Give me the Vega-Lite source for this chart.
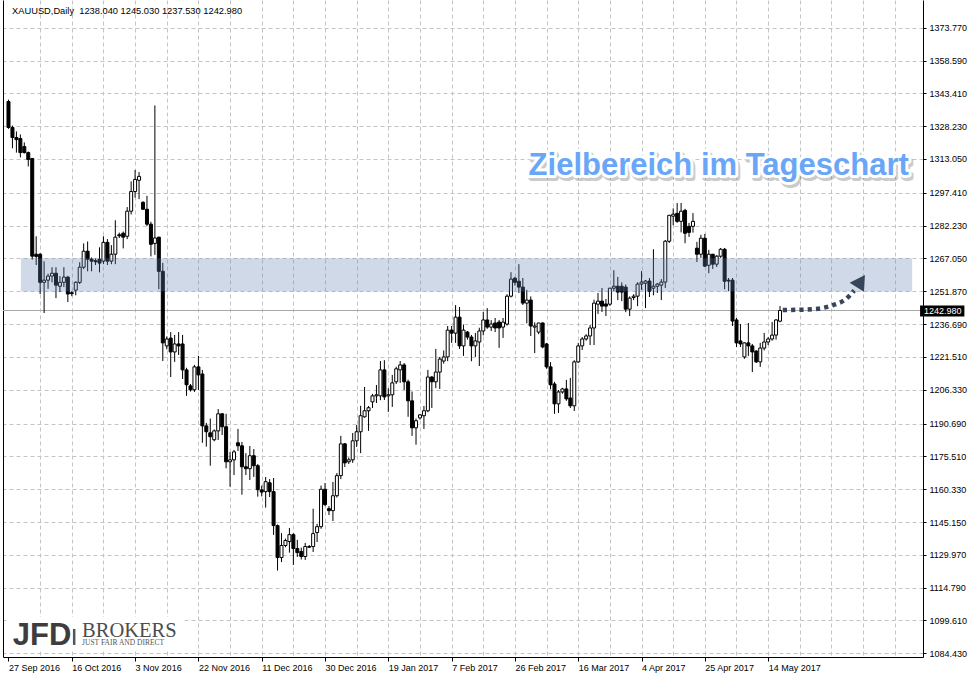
{
"$schema":"https://vega.github.io/schema/vega-lite/v6.json",
"width":920,"height":657,"autosize":"none",
"padding":{"left":3,"top":0,"right":48,"bottom":21},
"background":"white",
"config":{"view":{"stroke":null},"axis":{"labelFont":"Liberation Sans","labelFontSize":9,"labelColor":"black","title":null}},
"data":{"values":[{}]},
"datasets":{
"candles":[
{"i":0,"o":1339.6,"h":1340.5,"l":1327,"c":1327.6},
{"i":1,"o":1327.6,"h":1328.5,"l":1318,"c":1323},
{"i":2,"o":1323,"h":1325.8,"l":1316,"c":1322},
{"i":3,"o":1322.5,"h":1324.4,"l":1313.8,"c":1316},
{"i":4,"o":1318.8,"h":1320.7,"l":1315.6,"c":1316},
{"i":5,"o":1316,"h":1316.5,"l":1309.6,"c":1312.8},
{"i":6,"o":1313.3,"h":1313.5,"l":1266.5,"c":1268.1},
{"i":7,"o":1269,"h":1277.3,"l":1264,"c":1268},
{"i":8,"o":1269,"h":1269.5,"l":1250.6,"c":1256},
{"i":9,"o":1256,"h":1265.7,"l":1241.8,"c":1257},
{"i":10,"o":1257,"h":1260,"l":1253,"c":1258.9},
{"i":11,"o":1258.9,"h":1263,"l":1256,"c":1260.2},
{"i":12,"o":1260.2,"h":1263,"l":1248.7,"c":1254.7},
{"i":13,"o":1254.2,"h":1258.9,"l":1251.5,"c":1256},
{"i":14,"o":1256,"h":1263,"l":1253.8,"c":1258.4},
{"i":15,"o":1258.4,"h":1259,"l":1246.9,"c":1250.6},
{"i":16,"o":1251.2,"h":1252,"l":1249.6,"c":1250.8},
{"i":17,"o":1252.4,"h":1256.5,"l":1250,"c":1256},
{"i":18,"o":1256,"h":1265.3,"l":1255.2,"c":1263},
{"i":19,"o":1263,"h":1274,"l":1262.1,"c":1270.4},
{"i":20,"o":1270.4,"h":1274.9,"l":1261.1,"c":1266.7},
{"i":21,"o":1266.7,"h":1267.5,"l":1261.1,"c":1265.8},
{"i":22,"o":1266,"h":1267,"l":1264,"c":1265.5},
{"i":23,"o":1266.7,"h":1272.2,"l":1260.6,"c":1264.9},
{"i":24,"o":1265.8,"h":1277.3,"l":1264.4,"c":1274.5},
{"i":25,"o":1274.5,"h":1276,"l":1264,"c":1265.8},
{"i":26,"o":1265.8,"h":1273.2,"l":1264.4,"c":1269},
{"i":27,"o":1269,"h":1284.7,"l":1264.4,"c":1276.9},
{"i":28,"o":1278,"h":1279,"l":1276.5,"c":1277.5},
{"i":29,"o":1278.7,"h":1279.5,"l":1271.7,"c":1276.9},
{"i":30,"o":1277.3,"h":1290.8,"l":1276,"c":1288.9},
{"i":31,"o":1288.9,"h":1302.7,"l":1287.4,"c":1298},
{"i":32,"o":1298,"h":1308,"l":1295.2,"c":1303.6},
{"i":33,"o":1303.2,"h":1307,"l":1294.5,"c":1305},
{"i":34,"o":1293,"h":1293.5,"l":1289.6,"c":1289.8},
{"i":35,"o":1289.8,"h":1296,"l":1282,"c":1282.9},
{"i":36,"o":1282.9,"h":1284,"l":1268,"c":1273.6},
{"i":37,"o":1274,"h":1337.8,"l":1268.7,"c":1276.5},
{"i":38,"o":1276.9,"h":1277,"l":1252.8,"c":1261.1},
{"i":39,"o":1261.1,"h":1265,"l":1219.6,"c":1228},
{"i":40,"o":1226.6,"h":1231,"l":1225,"c":1229.8},
{"i":41,"o":1230.2,"h":1233,"l":1212.2,"c":1223.8},
{"i":42,"o":1223.8,"h":1231.7,"l":1219.2,"c":1227.5},
{"i":43,"o":1227.5,"h":1233,"l":1222.4,"c":1226.6},
{"i":44,"o":1227.5,"h":1231.7,"l":1211.3,"c":1215.5},
{"i":45,"o":1215.5,"h":1216.5,"l":1203.5,"c":1208.6},
{"i":46,"o":1208.1,"h":1209,"l":1205.5,"c":1206.3},
{"i":47,"o":1206.3,"h":1217.8,"l":1205.3,"c":1216.9},
{"i":48,"o":1216.9,"h":1222,"l":1206.2,"c":1213.2},
{"i":49,"o":1213.6,"h":1215.5,"l":1181.8,"c":1189.6},
{"i":50,"o":1189.6,"h":1191,"l":1180,"c":1186.9},
{"i":51,"o":1186.4,"h":1193,"l":1171.2,"c":1184.6},
{"i":52,"o":1183.2,"h":1188,"l":1182.5,"c":1187.3},
{"i":53,"o":1187.3,"h":1197.4,"l":1183.1,"c":1195.2},
{"i":54,"o":1195.2,"h":1195.5,"l":1185.4,"c":1189.2},
{"i":55,"o":1189.2,"h":1195.2,"l":1170,"c":1173},
{"i":56,"o":1173,"h":1177.5,"l":1161.5,"c":1173.9},
{"i":57,"o":1173.9,"h":1178.5,"l":1166.9,"c":1177.6},
{"i":58,"o":1181.8,"h":1188.2,"l":1178,"c":1180.4},
{"i":59,"o":1180.4,"h":1182.2,"l":1157.8,"c":1170.7},
{"i":60,"o":1170.7,"h":1177,"l":1166.9,"c":1169.8},
{"i":61,"o":1169.8,"h":1180.3,"l":1164.6,"c":1175.8},
{"i":62,"o":1175.8,"h":1178.9,"l":1166,"c":1171.2},
{"i":63,"o":1171.2,"h":1172,"l":1156.9,"c":1160.1},
{"i":64,"o":1160,"h":1162,"l":1157,"c":1159},
{"i":65,"o":1159.2,"h":1166,"l":1151.8,"c":1163.8},
{"i":66,"o":1163.3,"h":1165,"l":1156.7,"c":1159.2},
{"i":67,"o":1159.2,"h":1165.5,"l":1139.2,"c":1143.5},
{"i":68,"o":1143.5,"h":1144,"l":1122.7,"c":1128.7},
{"i":69,"o":1128.7,"h":1140,"l":1126.6,"c":1134.3},
{"i":70,"o":1134.3,"h":1137.5,"l":1133.5,"c":1136.6},
{"i":71,"o":1136.1,"h":1142.4,"l":1131,"c":1139.3},
{"i":72,"o":1139.3,"h":1140,"l":1125.3,"c":1132.9},
{"i":73,"o":1132.9,"h":1136.9,"l":1129,"c":1131},
{"i":74,"o":1131.5,"h":1133.3,"l":1127.8,"c":1129.2},
{"i":75,"o":1129.2,"h":1135.5,"l":1127.6,"c":1133.8},
{"i":76,"o":1133.8,"h":1134.5,"l":1133.2,"c":1133.5},
{"i":77,"o":1133.8,"h":1151.3,"l":1131.3,"c":1139.8},
{"i":78,"o":1140.3,"h":1144.3,"l":1135.9,"c":1143},
{"i":79,"o":1143,"h":1162,"l":1142,"c":1160.3},
{"i":80,"o":1160.3,"h":1163.2,"l":1152.5,"c":1153.2},
{"i":81,"o":1151.3,"h":1152.5,"l":1148.4,"c":1150.4},
{"i":82,"o":1150.4,"h":1163.7,"l":1145.6,"c":1157.3},
{"i":83,"o":1157.3,"h":1167.8,"l":1156.5,"c":1166.6},
{"i":84,"o":1166.6,"h":1185,"l":1165,"c":1181.3},
{"i":85,"o":1181.3,"h":1181.7,"l":1170.6,"c":1172.5},
{"i":86,"o":1173,"h":1175,"l":1172,"c":1173.9},
{"i":87,"o":1173.9,"h":1186.3,"l":1172.5,"c":1182.7},
{"i":88,"o":1182.7,"h":1190,"l":1179.9,"c":1186.9},
{"i":89,"o":1186.9,"h":1198.9,"l":1177,"c":1194.3},
{"i":90,"o":1193.8,"h":1207.6,"l":1193.4,"c":1196.6},
{"i":91,"o":1196.6,"h":1198.8,"l":1187.3,"c":1198},
{"i":92,"o":1200.7,"h":1204.4,"l":1197.9,"c":1203.5},
{"i":93,"o":1203.5,"h":1208.5,"l":1200.2,"c":1204},
{"i":94,"o":1203.5,"h":1219.6,"l":1201.5,"c":1215.5},
{"i":95,"o":1215.5,"h":1220,"l":1201.6,"c":1203},
{"i":96,"o":1203.5,"h":1207,"l":1196.1,"c":1204},
{"i":97,"o":1204,"h":1213.2,"l":1198.4,"c":1209.5},
{"i":98,"o":1210,"h":1217,"l":1209,"c":1216},
{"i":99,"o":1215.5,"h":1219.6,"l":1209.5,"c":1217.8},
{"i":100,"o":1217.8,"h":1218.7,"l":1206.2,"c":1210},
{"i":101,"o":1210,"h":1211,"l":1193.8,"c":1201.2},
{"i":102,"o":1201.2,"h":1205.5,"l":1185,"c":1188.7},
{"i":103,"o":1188.7,"h":1193,"l":1180.9,"c":1192},
{"i":104,"o":1193.3,"h":1195,"l":1192.5,"c":1194.7},
{"i":105,"o":1194.3,"h":1198.8,"l":1188.2,"c":1196.6},
{"i":106,"o":1196.6,"h":1215.5,"l":1195.9,"c":1212.2},
{"i":107,"o":1212.2,"h":1212.7,"l":1197.9,"c":1210},
{"i":108,"o":1210,"h":1225.2,"l":1207.1,"c":1214.5},
{"i":109,"o":1214.5,"h":1221.5,"l":1206.7,"c":1220.5},
{"i":110,"o":1219.6,"h":1224.5,"l":1218.4,"c":1221.5},
{"i":111,"o":1221.5,"h":1235.8,"l":1219.5,"c":1233.9},
{"i":112,"o":1233.9,"h":1235.8,"l":1228,"c":1232.5},
{"i":113,"o":1232.5,"h":1245.5,"l":1228,"c":1239.9},
{"i":114,"o":1239.9,"h":1244.6,"l":1225.2,"c":1226.6},
{"i":115,"o":1226.6,"h":1236.5,"l":1222,"c":1233.9},
{"i":116,"o":1233,"h":1233.5,"l":1229.5,"c":1230.7},
{"i":117,"o":1230.7,"h":1231.7,"l":1219.5,"c":1226.6},
{"i":118,"o":1226.6,"h":1232.6,"l":1221.5,"c":1228.9},
{"i":119,"o":1228.4,"h":1235,"l":1217.3,"c":1233.5},
{"i":120,"o":1233.5,"h":1242.3,"l":1231.5,"c":1238.6},
{"i":121,"o":1238.6,"h":1244.1,"l":1234.5,"c":1235.3},
{"i":122,"o":1235.3,"h":1238.5,"l":1233.5,"c":1236.7},
{"i":123,"o":1237.2,"h":1239.5,"l":1233,"c":1234.9},
{"i":124,"o":1237.6,"h":1238.6,"l":1225.7,"c":1234.9},
{"i":125,"o":1235.3,"h":1239.5,"l":1230.3,"c":1237.6},
{"i":126,"o":1236.7,"h":1250.5,"l":1236,"c":1249.6},
{"i":127,"o":1249.6,"h":1260.7,"l":1249,"c":1257.5},
{"i":128,"o":1257.9,"h":1258.5,"l":1254.5,"c":1256},
{"i":129,"o":1256.5,"h":1264.4,"l":1251.1,"c":1253.8},
{"i":130,"o":1253.8,"h":1258,"l":1245.5,"c":1246.4},
{"i":131,"o":1246.4,"h":1252.5,"l":1237,"c":1247.8},
{"i":132,"o":1247.8,"h":1249.5,"l":1231.2,"c":1235.8},
{"i":133,"o":1235.3,"h":1237.5,"l":1223.3,"c":1235.8},
{"i":134,"o":1233,"h":1237.2,"l":1232,"c":1237.2},
{"i":135,"o":1237.2,"h":1237.5,"l":1225.5,"c":1226.1},
{"i":136,"o":1227.5,"h":1228,"l":1216,"c":1216.9},
{"i":137,"o":1216.9,"h":1219.1,"l":1206.5,"c":1208.6},
{"i":138,"o":1209,"h":1210,"l":1195.2,"c":1199.8},
{"i":139,"o":1199.8,"h":1206.2,"l":1195.6,"c":1205.3},
{"i":140,"o":1205.3,"h":1207.2,"l":1204.5,"c":1206.7},
{"i":141,"o":1206.7,"h":1210.9,"l":1201.2,"c":1202.1},
{"i":142,"o":1202.5,"h":1211.8,"l":1197.9,"c":1198.9},
{"i":143,"o":1198.9,"h":1220,"l":1196.5,"c":1219.2},
{"i":144,"o":1219.2,"h":1228,"l":1218.7,"c":1226.6},
{"i":145,"o":1226.6,"h":1230.7,"l":1224.7,"c":1229.8},
{"i":146,"o":1229.8,"h":1232,"l":1229,"c":1231.2},
{"i":147,"o":1231.2,"h":1236.3,"l":1227,"c":1234.9},
{"i":148,"o":1234.9,"h":1248,"l":1227,"c":1246.4},
{"i":149,"o":1245.9,"h":1251.1,"l":1241.4,"c":1247.3},
{"i":150,"o":1247.3,"h":1253.4,"l":1242.3,"c":1245},
{"i":151,"o":1246,"h":1248.3,"l":1240.4,"c":1245},
{"i":152,"o":1245.9,"h":1253.4,"l":1245.1,"c":1253.3},
{"i":153,"o":1253.3,"h":1261.6,"l":1252,"c":1254.2},
{"i":154,"o":1254.2,"h":1258.5,"l":1247.8,"c":1251.5},
{"i":155,"o":1254.2,"h":1256,"l":1247.3,"c":1251.5},
{"i":156,"o":1253.8,"h":1255,"l":1242.2,"c":1243.6},
{"i":157,"o":1243.6,"h":1249.5,"l":1240.4,"c":1248.7},
{"i":158,"o":1249,"h":1250.5,"l":1247.8,"c":1249.6},
{"i":159,"o":1249.6,"h":1256,"l":1245,"c":1255.2},
{"i":160,"o":1255.2,"h":1261.2,"l":1252.5,"c":1256.1},
{"i":161,"o":1255.6,"h":1257.1,"l":1244.1,"c":1256.6},
{"i":162,"o":1256.6,"h":1258,"l":1249.2,"c":1251.9},
{"i":163,"o":1253.3,"h":1271.3,"l":1250,"c":1254.2},
{"i":164,"o":1254.2,"h":1255.7,"l":1251.1,"c":1255.2},
{"i":165,"o":1254.7,"h":1257.5,"l":1247.8,"c":1256.1},
{"i":166,"o":1256.1,"h":1275.6,"l":1253.4,"c":1275},
{"i":167,"o":1275,"h":1287.2,"l":1274.2,"c":1287},
{"i":168,"o":1286.6,"h":1290.2,"l":1282.4,"c":1287.5},
{"i":169,"o":1287.9,"h":1292.7,"l":1283.5,"c":1284.2},
{"i":170,"o":1284.2,"h":1292.7,"l":1279.1,"c":1288.9},
{"i":171,"o":1289.3,"h":1290,"l":1274.1,"c":1278.7},
{"i":172,"o":1281.9,"h":1283.5,"l":1277,"c":1279.1},
{"i":173,"o":1281.9,"h":1288,"l":1279,"c":1284.2},
{"i":174,"o":1271.8,"h":1274.7,"l":1265.4,"c":1269},
{"i":175,"o":1269,"h":1278,"l":1267.3,"c":1276.4},
{"i":176,"o":1276.4,"h":1278.4,"l":1263.1,"c":1263.5},
{"i":177,"o":1263.9,"h":1271,"l":1260.2,"c":1269},
{"i":178,"o":1269,"h":1269.1,"l":1262.2,"c":1264.4},
{"i":179,"o":1264.4,"h":1268.6,"l":1263.1,"c":1268.1},
{"i":180,"o":1268.1,"h":1271.9,"l":1267.3,"c":1271.3},
{"i":181,"o":1271.3,"h":1271.9,"l":1252.8,"c":1256.5},
{"i":182,"o":1257,"h":1258,"l":1251.9,"c":1256.6},
{"i":183,"o":1257,"h":1258,"l":1235.8,"c":1238.1},
{"i":184,"o":1238.6,"h":1239.5,"l":1226.1,"c":1228},
{"i":185,"o":1228.9,"h":1236.7,"l":1226.1,"c":1227.5},
{"i":186,"o":1221.5,"h":1228.2,"l":1220.6,"c":1228},
{"i":187,"o":1228,"h":1237.2,"l":1222,"c":1226.6},
{"i":188,"o":1226.6,"h":1227.5,"l":1214.5,"c":1223.8},
{"i":189,"o":1224.2,"h":1224.7,"l":1218.7,"c":1219.2},
{"i":190,"o":1219.2,"h":1228,"l":1216.9,"c":1225.6},
{"i":191,"o":1225.6,"h":1232.6,"l":1224.5,"c":1228.4},
{"i":192,"o":1228.4,"h":1230.7,"l":1227,"c":1229.8},
{"i":193,"o":1229.8,"h":1237.7,"l":1229,"c":1231.6},
{"i":194,"o":1231.6,"h":1239,"l":1229.5,"c":1238.6},
{"i":195,"o":1238.04,"h":1245.03,"l":1237.53,"c":1242.98}
],
"arrow":[
{"ax":195.7,"ay":1243.2},
{"ax":200.4,"ay":1243.35},
{"ax":204.55,"ay":1243.8},
{"ax":208.3,"ay":1245.4},
{"ax":211.8,"ay":1248.5},
{"ax":213.75,"ay":1252.2}
]
},
"resolve":{"axis":{"x":"independent","y":"independent"}},
"layer":[
{"mark":{"type":"rect","fill":"white"},
 "encoding":{"x":{"datum":-0.125,"type":"quantitative","scale":{"domain":[-0.125,229.875]},"axis":null},"x2":{"datum":44.4},
 "y":{"datum":1086,"type":"quantitative","scale":{"domain":[1082.72,1386.58]},"axis":null},"y2":{"datum":1101.2}}},
{"mark":{"type":"rule","color":"#a8a8a8","strokeWidth":1},
 "encoding":{"y":{"datum":1242.98,"type":"quantitative","scale":{"domain":[1082.72,1386.58]},"axis":null}}},
{"data":{"name":"candles"},
 "mark":{"type":"rule","color":"black","strokeWidth":1,"clip":true},
 "encoding":{
  "x":{"field":"i","type":"quantitative","scale":{"domain":[-0.125,229.875]},
   "axis":{"orient":"bottom","values":[8,16,24,32,40,48,56,64,72,80,88,96,104,112,120,128,136,144,152,160,168,176,184,192,200,208,216,224],"grid":true,"gridColor":"#c4c4c4","gridDash":[4,3],"labels":false,"ticks":false,"domain":false}},
  "y":{"field":"l","type":"quantitative","scale":{"domain":[1082.72,1386.58]},
   "axis":{"orient":"right","values":[1084.43,1099.61,1114.79,1129.97,1145.15,1160.33,1175.51,1190.69,1206.33,1221.51,1236.69,1251.87,1267.05,1282.23,1297.41,1313.05,1328.23,1343.41,1358.59,1373.77],"format":".3f","grid":true,"gridColor":"#c4c4c4","gridDash":[4,3],"domainColor":"black","tickColor":"black","tickSize":3,"labelPadding":3}},
  "y2":{"field":"h"}}},
{"data":{"name":"candles"},
 "mark":{"type":"bar","size":3,"stroke":"black","strokeWidth":1,"clip":true},
 "encoding":{
  "x":{"field":"i","type":"quantitative","scale":{"domain":[-0.125,229.875]},
   "axis":{"orient":"bottom","values":[0,16,32,48,64,80,96,112,128,144,160,176,192],
    "labelExpr":"['27 Sep 2016','16 Oct 2016','3 Nov 2016','22 Nov 2016','11 Dec 2016','30 Dec 2016','19 Jan 2017','7 Feb 2017','26 Feb 2017','16 Mar 2017','4 Apr 2017','25 Apr 2017','14 May 2017'][round(datum.value/16)]",
    "labelAlign":"left","labelBaseline":"top","grid":false,"domainColor":"black","tickColor":"black","tickSize":4,"labelPadding":2,"labelFlush":false,"labelOverlap":false,"labelBound":false}},
  "y":{"field":"o","type":"quantitative","scale":{"domain":[1082.72,1386.58]},
   "axis":{"orient":"left","labels":false,"ticks":false,"grid":false,"domainColor":"black"}},
  "y2":{"field":"c"},
  "fill":{"condition":{"test":"datum.c >= datum.o","value":"white"},"value":"black"}}},
{"mark":{"type":"rect","fill":"#6181b1","opacity":0.3},
 "encoding":{"x":{"datum":3.125,"type":"quantitative","scale":{"domain":[-0.125,229.875]},"axis":null},"x2":{"datum":228.4},
 "y":{"datum":1251.8,"type":"quantitative","scale":{"domain":[1082.72,1386.58]},"axis":null},"y2":{"datum":1267.1}}},
{"data":{"name":"arrow"},
 "mark":{"type":"line","stroke":"#36455a","strokeWidth":4.5,"strokeDash":[4.2,4.1],"strokeCap":"butt","interpolate":"monotone","clip":false},
 "encoding":{"x":{"field":"ax","type":"quantitative","scale":{"domain":[-0.125,229.875]},"axis":null},
 "y":{"field":"ay","type":"quantitative","scale":{"domain":[1082.72,1386.58]},"axis":null}}},
{"mark":{"type":"point","shape":"M0.54,-0.81L-0.99,-0.04L0.44,0.86Z","filled":true,"size":400,"color":"#36455a","opacity":1,"clip":false},
 "encoding":{"x":{"datum":215.1,"type":"quantitative","scale":{"domain":[-0.125,229.875]},"axis":null},
 "y":{"datum":1255.65,"type":"quantitative","scale":{"domain":[1082.72,1386.58]},"axis":null}}},
{"mark":{"type":"text","text":"Zielbereich im Tageschart","font":"Liberation Sans","fontWeight":"bold","fontSize":31,"align":"center","baseline":"alphabetic","dx":2,"dy":3,"fill":"#555555","stroke":"#555555","strokeWidth":6,"strokeJoin":"round","opacity":0.3},
 "encoding":{"x":{"datum":179.5,"type":"quantitative","scale":{"domain":[-0.125,229.875]},"axis":null},
 "y":{"datum":1305.64,"type":"quantitative","scale":{"domain":[1082.72,1386.58]},"axis":null}}},
{"mark":{"type":"text","text":"Zielbereich im Tageschart","font":"Liberation Sans","fontWeight":"bold","fontSize":31,"align":"center","baseline":"alphabetic","fill":"white","stroke":"white","strokeWidth":6,"strokeJoin":"round"},
 "encoding":{"x":{"datum":179.5,"type":"quantitative","scale":{"domain":[-0.125,229.875]},"axis":null},
 "y":{"datum":1305.64,"type":"quantitative","scale":{"domain":[1082.72,1386.58]},"axis":null}}},
{"mark":{"type":"text","text":"Zielbereich im Tageschart","font":"Liberation Sans","fontWeight":"bold","fontSize":31,"align":"center","baseline":"alphabetic","fill":"#6aa6f8"},
 "encoding":{"x":{"datum":179.5,"type":"quantitative","scale":{"domain":[-0.125,229.875]},"axis":null},
 "y":{"datum":1305.64,"type":"quantitative","scale":{"domain":[1082.72,1386.58]},"axis":null}}},
{"mark":{"type":"text","text":"JFD","font":"Liberation Sans","fontWeight":"bold","fontSize":31,"align":"left","baseline":"alphabetic","fill":"#3d3d3d","letterSpacing":-1},
 "encoding":{"x":{"datum":1.1,"type":"quantitative","scale":{"domain":[-0.125,229.875]},"axis":null},
 "y":{"datum":1088.3,"type":"quantitative","scale":{"domain":[1082.72,1386.58]},"axis":null}}},
{"mark":{"type":"rule","color":"#555555","strokeWidth":2.5},
 "encoding":{"x":{"datum":16.6,"type":"quantitative","scale":{"domain":[-0.125,229.875]},"axis":null},
 "y":{"datum":1088.3,"type":"quantitative","scale":{"domain":[1082.72,1386.58]},"axis":null},"y2":{"datum":1095.7}}},
{"mark":{"type":"text","text":"BROKERS","font":"Liberation Serif","fontSize":20.5,"align":"left","baseline":"alphabetic","fill":"#4d4d4d"},
 "encoding":{"x":{"datum":18.6,"type":"quantitative","scale":{"domain":[-0.125,229.875]},"axis":null},
 "y":{"datum":1092.2,"type":"quantitative","scale":{"domain":[1082.72,1386.58]},"axis":null}}},
{"mark":{"type":"text","text":"JUST FAIR AND DIRECT","font":"Liberation Serif","fontSize":7.5,"letterSpacing":0.5,"align":"left","baseline":"alphabetic","fill":"#555555"},
 "encoding":{"x":{"datum":18.6,"type":"quantitative","scale":{"domain":[-0.125,229.875]},"axis":null},
 "y":{"datum":1088.1,"type":"quantitative","scale":{"domain":[1082.72,1386.58]},"axis":null}}},
{"mark":{"type":"text","text":"XAUUSD,Daily\u00a0 1238.040 1245.030 1237.530 1242.980","font":"Liberation Sans","fontSize":9.3,"align":"left","baseline":"alphabetic","fill":"black"},
 "encoding":{"x":{"datum":0.9,"type":"quantitative","scale":{"domain":[-0.125,229.875]},"axis":null},
 "y":{"datum":1380.1,"type":"quantitative","scale":{"domain":[1082.72,1386.58]},"axis":null}}},
{"mark":{"type":"rect","fill":"black","clip":false},
 "encoding":{"x":{"datum":230.4,"type":"quantitative","scale":{"domain":[-0.125,229.875]},"axis":null},"x2":{"datum":241.6},
 "y":{"datum":1240.2,"type":"quantitative","scale":{"domain":[1082.72,1386.58]},"axis":null},"y2":{"datum":1245.29}}},
{"mark":{"type":"text","text":"1242.980","font":"Liberation Sans","fontSize":9,"align":"left","baseline":"middle","fill":"white","clip":false},
 "encoding":{"x":{"datum":231.4,"type":"quantitative","scale":{"domain":[-0.125,229.875]},"axis":null},
 "y":{"datum":1242.74,"type":"quantitative","scale":{"domain":[1082.72,1386.58]},"axis":null}}}
]
}
